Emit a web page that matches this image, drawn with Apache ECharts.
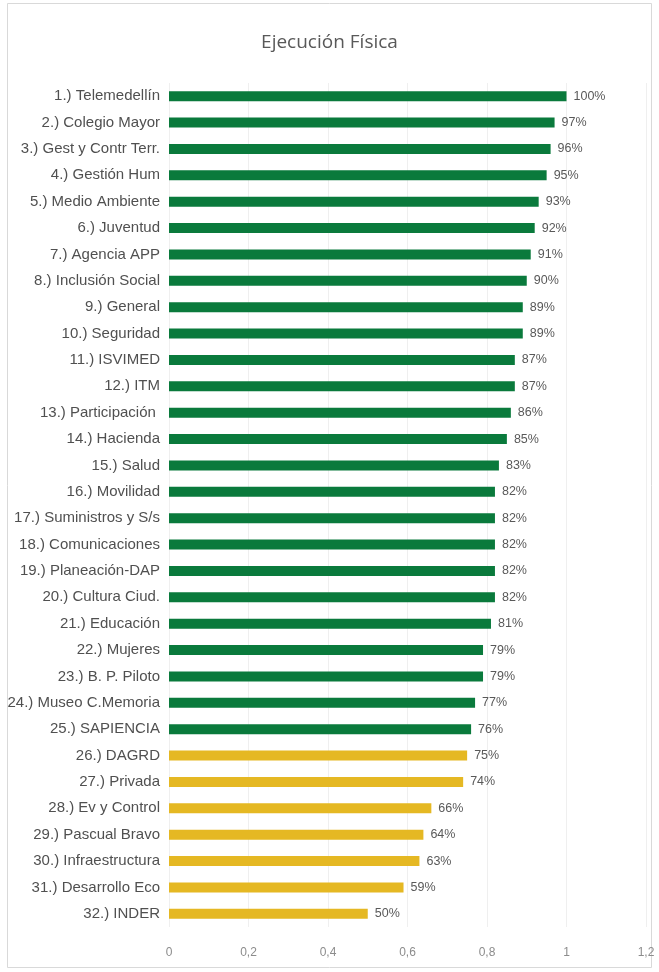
<!DOCTYPE html>
<html>
<head>
<meta charset="utf-8">
<script src="https://cdn.jsdelivr.net/npm/echarts@6/dist/echarts.min.js"></script>
<style>
  html, body { margin: 0; padding: 0; background: #fff; }
  #chart { width: 659px; height: 972px; }
</style>
</head>
<body>
<div id="chart"></div>
<script>
const categories = [
  '1.) Telemedellín', '2.) Colegio Mayor', '3.) Gest y Contr Terr.', '4.) Gestión Hum',
  '5.) Medio Ambiente', '6.) Juventud', '7.) Agencia APP', '8.) Inclusión Social',
  '9.) General', '10.) Seguridad', '11.) ISVIMED', '12.) ITM',
  '13.) Participación ', '14.) Hacienda', '15.) Salud', '16.) Movilidad',
  '17.) Suministros y S/s', '18.) Comunicaciones', '19.) Planeación-DAP', '20.) Cultura Ciud.',
  '21.) Educación', '22.) Mujeres', '23.) B. P. Piloto', '24.) Museo C.Memoria',
  '25.) SAPIENCIA', '26.) DAGRD', '27.) Privada', '28.) Ev y Control',
  '29.) Pascual Bravo', '30.) Infraestructura', '31.) Desarrollo Eco', '32.) INDER'
];
const values = [
  1.00, 0.97, 0.96, 0.95, 0.93, 0.92, 0.91, 0.90,
  0.89, 0.89, 0.87, 0.87, 0.86, 0.85, 0.83, 0.82,
  0.82, 0.82, 0.82, 0.82, 0.81, 0.79, 0.79, 0.77,
  0.76, 0.75, 0.74, 0.66, 0.64, 0.63, 0.59, 0.50
];
const threshold = 0.755;
const green = '#0a7a3c';
const yellow = '#e5b823';
const font = 'Liberation Sans Narrow, Liberation Sans, sans-serif';

const chart = echarts.init(document.getElementById('chart'));
chart.setOption({
  backgroundColor: '#fff',
  animation: false,
  title: {
    text: 'Ejecución Física',
    left: 'center',
    top: 28,
    textStyle: { fontFamily: 'Open Sans', fontSize: 19, fontWeight: 'normal', color: '#595959' }
  },
  graphic: [{
    type: 'rect',
    shape: { x: 7.5, y: 3.5, width: 644, height: 964 },
    style: { fill: 'none', stroke: '#d9d9d9', lineWidth: 1 },
    silent: true
  }],
  grid: { left: 169, right: 13, top: 83, bottom: 45, containLabel: false },
  xAxis: {
    type: 'value',
    min: 0,
    max: 1.2,
    interval: 0.2,
    axisLine: { show: false },
    axisTick: { show: false },
    splitLine: { lineStyle: { color: '#efefef', width: 1 } },
    axisLabel: {
      margin: 20,
      color: '#8c8c8c',
      fontFamily: font,
      fontSize: 12,
      formatter: v => String(+v.toFixed(1)).replace('.', ',')
    }
  },
  yAxis: {
    type: 'category',
    inverse: true,
    data: categories,
    axisLine: { show: false },
    axisTick: { show: false },
    axisLabel: {
      margin: 9,
      color: '#505050',
      fontFamily: font,
      fontSize: 15
    }
  },
  series: [{
    type: 'bar',
    barWidth: 10,
    data: values.map(v => ({
      value: v,
      itemStyle: { color: v > threshold ? green : yellow }
    })),
    label: {
      show: true,
      position: 'right',
      distance: 7,
      color: '#595959',
      fontFamily: font,
      fontSize: 12.5,
      formatter: p => Math.round(p.value * 100) + '%'
    }
  }]
});
</script>
</body>
</html>
